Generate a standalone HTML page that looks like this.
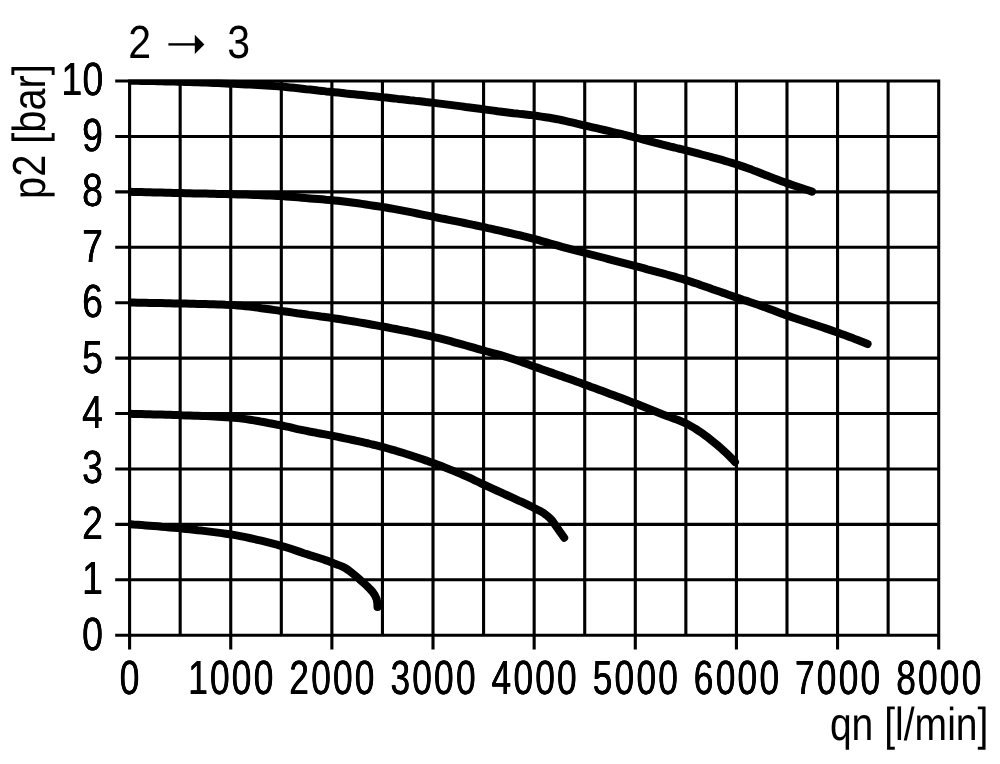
<!DOCTYPE html>
<html lang="en"><head><meta charset="utf-8"><title>Flow chart 2 to 3</title>
<style>
html,body{margin:0;padding:0;background:#fff}
body{width:1000px;height:764px;overflow:hidden;position:relative}
svg{display:block;position:absolute;left:0;top:0}
.t,.a,.y{text-rendering:geometricPrecision;position:absolute;left:0;top:0;line-height:0;white-space:nowrap;transform-origin:0 0;color:#000;font-family:"Liberation Sans",Arial,sans-serif}
.t{font-size:96.00px;letter-spacing:6.04px;text-shadow:0.680px 0 0 #000,-0.680px 0 0 #000}
.a{font-size:92.80px}
.y{font-size:92.80px;letter-spacing:0.60px;text-shadow:0.297px 0 0 #000,-0.297px 0 0 #000}
</style></head><body>
<svg width="1000" height="764" viewBox="0 0 1000 764">
<defs><clipPath id="plot"><rect x="128.05" y="79.50" width="812.20" height="557.25"/></clipPath></defs>
<path d="M129.60 79.50 V649.60 M180.17 79.50 V635.20 M230.74 79.50 V649.60 M281.31 79.50 V635.20 M331.88 79.50 V649.60 M382.44 79.50 V635.20 M433.01 79.50 V649.60 M483.58 79.50 V635.20 M534.15 79.50 V649.60 M584.72 79.50 V635.20 M635.29 79.50 V649.60 M685.86 79.50 V635.20 M736.43 79.50 V649.60 M786.99 79.50 V635.20 M837.56 79.50 V649.60 M888.13 79.50 V635.20 M938.70 79.50 V649.60 M115.20 635.20 H940.25 M115.20 579.79 H940.25 M115.20 524.37 H940.25 M115.20 468.96 H940.25 M115.20 413.54 H940.25 M115.20 358.12 H940.25 M115.20 302.71 H940.25 M115.20 247.30 H940.25 M115.20 191.88 H940.25 M115.20 136.46 H940.25 M115.20 81.05 H940.25" fill="none" stroke="#000" stroke-width="3.10"/>
<g clip-path="url(#plot)" fill="none" stroke="#000" stroke-width="8.00" stroke-linecap="round" stroke-linejoin="round">
<path d="M129.6 80.7 L133.6 80.8 L137.6 80.8 L141.6 80.9 L145.7 81.0 L149.7 81.0 L153.7 81.1 L157.7 81.2 L161.7 81.3 L165.7 81.4 L169.8 81.5 L173.8 81.6 L177.8 81.7 L181.8 81.8 L185.8 82.0 L189.8 82.1 L193.8 82.2 L197.9 82.3 L201.9 82.5 L205.9 82.6 L209.9 82.8 L213.9 83.0 L217.9 83.1 L221.9 83.3 L226.0 83.5 L230.0 83.7 L234.0 83.8 L238.0 84.0 L242.0 84.2 L246.0 84.4 L250.0 84.6 L254.0 84.8 L258.1 85.1 L262.1 85.3 L266.1 85.5 L270.1 85.8 L274.1 86.1 L278.1 86.3 L282.1 86.6 L286.1 87.0 L290.1 87.4 L294.1 87.8 L298.1 88.2 L302.1 88.7 L306.1 89.2 L310.1 89.6 L314.1 90.0 L318.0 90.5 L322.0 90.9 L326.0 91.4 L330.0 91.8 L334.0 92.2 L338.0 92.6 L342.0 93.0 L346.0 93.5 L350.0 93.9 L354.0 94.3 L358.0 94.7 L362.0 95.1 L366.0 95.5 L370.0 95.9 L374.0 96.3 L378.0 96.7 L382.0 97.2 L386.0 97.6 L390.0 98.0 L393.9 98.4 L397.9 98.9 L401.9 99.3 L405.9 99.7 L409.9 100.2 L413.9 100.6 L417.9 101.1 L421.9 101.5 L425.9 102.0 L429.9 102.4 L433.9 102.9 L437.9 103.4 L441.8 103.9 L445.8 104.4 L449.8 104.9 L453.8 105.4 L457.8 105.9 L461.8 106.4 L465.7 107.0 L469.7 107.5 L473.7 108.0 L477.7 108.5 L481.7 109.0 L485.7 109.6 L489.6 110.1 L493.6 110.6 L497.6 111.2 L501.6 111.7 L505.6 112.2 L509.5 112.7 L513.5 113.2 L517.5 113.6 L521.5 114.1 L525.5 114.5 L529.5 114.9 L533.5 115.4 L537.5 116.0 L541.4 116.6 L545.4 117.2 L549.4 117.8 L553.3 118.5 L557.3 119.2 L561.2 120.0 L565.1 120.9 L569.1 121.8 L573.0 122.7 L576.9 123.7 L580.8 124.6 L584.7 125.5 L588.6 126.4 L592.5 127.3 L596.4 128.2 L600.4 129.1 L604.3 130.0 L608.2 130.9 L612.1 131.9 L616.0 132.8 L619.9 133.7 L623.8 134.7 L627.7 135.6 L631.6 136.6 L635.5 137.5 L639.4 138.5 L643.3 139.6 L647.2 140.6 L651.0 141.6 L654.9 142.7 L658.8 143.7 L662.7 144.7 L666.6 145.6 L670.5 146.6 L674.4 147.5 L678.3 148.5 L682.2 149.4 L686.1 150.4 L690.0 151.4 L693.9 152.4 L697.8 153.4 L701.7 154.5 L705.6 155.5 L709.5 156.5 L713.3 157.6 L717.2 158.6 L721.1 159.7 L724.9 160.8 L728.8 162.0 L732.6 163.1 L736.4 164.3 L740.2 165.6 L744.0 166.9 L747.8 168.2 L751.6 169.6 L755.3 171.1 L759.1 172.5 L762.8 174.0 L766.6 175.4 L770.3 176.9 L774.1 178.4 L777.8 179.8 L781.6 181.2 L785.4 182.6 L789.2 183.9 L793.0 185.2 L796.8 186.5 L800.6 187.8 L804.4 189.1 L808.2 190.3 L812.0 191.6"/>
<path d="M129.6 191.8 L133.6 191.9 L137.6 192.0 L141.6 192.1 L145.6 192.2 L149.7 192.3 L153.7 192.4 L157.7 192.5 L161.7 192.6 L165.7 192.7 L169.7 192.8 L173.7 192.9 L177.7 193.0 L181.8 193.1 L185.8 193.2 L189.8 193.3 L193.8 193.4 L197.8 193.5 L201.8 193.5 L205.8 193.6 L209.8 193.7 L213.9 193.8 L217.9 193.9 L221.9 194.0 L225.9 194.1 L229.9 194.2 L233.9 194.3 L237.9 194.4 L241.9 194.5 L245.9 194.6 L250.0 194.8 L254.0 194.9 L258.0 195.0 L262.0 195.2 L266.0 195.4 L270.0 195.5 L274.0 195.7 L278.0 195.9 L282.0 196.1 L286.0 196.4 L290.0 196.7 L294.0 197.0 L298.0 197.3 L302.0 197.7 L306.0 198.1 L310.0 198.4 L314.0 198.7 L318.0 199.0 L322.0 199.3 L326.0 199.7 L330.0 200.0 L334.0 200.4 L338.0 200.8 L342.0 201.3 L346.0 201.8 L350.0 202.3 L353.9 202.8 L357.9 203.3 L361.9 203.9 L365.9 204.5 L369.8 205.1 L373.8 205.7 L377.8 206.3 L381.7 206.9 L385.7 207.5 L389.7 208.2 L393.6 208.9 L397.5 209.6 L401.5 210.4 L405.4 211.1 L409.4 211.9 L413.3 212.7 L417.2 213.5 L421.2 214.3 L425.1 215.1 L429.0 215.9 L433.0 216.7 L436.9 217.5 L440.9 218.3 L444.8 219.0 L448.7 219.8 L452.7 220.6 L456.6 221.4 L460.5 222.2 L464.5 223.0 L468.4 223.8 L472.3 224.7 L476.2 225.5 L480.2 226.4 L484.1 227.2 L488.0 228.1 L491.9 228.9 L495.8 229.8 L499.8 230.7 L503.7 231.6 L507.6 232.5 L511.5 233.4 L515.4 234.3 L519.3 235.2 L523.2 236.2 L527.1 237.1 L531.0 238.1 L534.9 239.1 L538.7 240.2 L542.6 241.3 L546.5 242.4 L550.3 243.5 L554.2 244.6 L558.0 245.7 L561.9 246.8 L565.8 247.9 L569.6 248.9 L573.5 249.9 L577.4 251.0 L581.3 252.0 L585.2 253.0 L589.0 254.0 L592.9 255.0 L596.8 256.0 L600.7 257.0 L604.6 258.0 L608.5 259.1 L612.3 260.1 L616.2 261.1 L620.1 262.1 L624.0 263.1 L627.9 264.1 L631.8 265.1 L635.6 266.2 L639.5 267.2 L643.4 268.2 L647.3 269.3 L651.2 270.3 L655.0 271.3 L658.9 272.4 L662.8 273.4 L666.7 274.5 L670.5 275.6 L674.4 276.7 L678.2 277.8 L682.1 278.9 L685.9 280.1 L689.7 281.3 L693.5 282.6 L697.3 283.8 L701.1 285.2 L704.9 286.5 L708.7 287.8 L712.5 289.2 L716.3 290.5 L720.1 291.8 L723.9 293.1 L727.7 294.5 L731.4 295.8 L735.2 297.1 L739.0 298.4 L742.8 299.7 L746.6 300.9 L750.4 302.2 L754.2 303.5 L758.0 304.8 L761.8 306.2 L765.6 307.5 L769.4 308.9 L773.1 310.3 L776.9 311.8 L780.6 313.2 L784.4 314.6 L788.2 315.9 L792.0 317.2 L795.8 318.5 L799.6 319.8 L803.4 321.0 L807.2 322.3 L811.0 323.5 L814.8 324.8 L818.6 326.0 L822.4 327.3 L826.3 328.6 L830.1 329.9 L833.8 331.2 L837.6 332.5 L841.4 333.9 L845.2 335.3 L848.9 336.7 L852.7 338.1 L856.4 339.6 L860.1 341.0 L863.9 342.5 L867.6 344.0"/>
<path d="M129.6 302.6 L133.6 302.6 L137.6 302.7 L141.6 302.8 L145.6 302.8 L149.6 302.9 L153.6 303.0 L157.6 303.0 L161.6 303.1 L165.6 303.2 L169.6 303.3 L173.6 303.4 L177.6 303.4 L181.6 303.5 L185.6 303.6 L189.6 303.7 L193.6 303.8 L197.6 303.9 L201.6 304.0 L205.6 304.1 L209.6 304.2 L213.6 304.3 L217.6 304.5 L221.6 304.6 L225.6 304.8 L229.6 304.9 L233.6 305.1 L237.6 305.4 L241.6 305.8 L245.6 306.2 L249.5 306.6 L253.5 307.1 L257.5 307.6 L261.4 308.2 L265.4 308.7 L269.4 309.3 L273.4 309.9 L277.3 310.4 L281.3 311.0 L285.3 311.5 L289.2 312.0 L293.2 312.6 L297.1 313.2 L301.1 313.7 L305.1 314.3 L309.0 314.9 L313.0 315.4 L317.0 315.9 L320.9 316.5 L324.9 317.0 L328.9 317.5 L332.8 318.1 L336.8 318.7 L340.7 319.3 L344.7 320.0 L348.6 320.6 L352.6 321.2 L356.5 321.9 L360.5 322.6 L364.4 323.3 L368.4 324.0 L372.3 324.7 L376.2 325.4 L380.2 326.1 L384.1 326.8 L388.0 327.5 L392.0 328.3 L395.9 329.0 L399.8 329.8 L403.8 330.6 L407.7 331.3 L411.6 332.1 L415.5 333.0 L419.5 333.8 L423.4 334.6 L427.3 335.5 L431.2 336.4 L435.1 337.3 L439.0 338.2 L442.8 339.2 L446.7 340.2 L450.6 341.2 L454.4 342.3 L458.3 343.4 L462.1 344.4 L466.0 345.5 L469.9 346.6 L473.7 347.7 L477.6 348.8 L481.4 349.9 L485.3 351.0 L489.1 352.0 L493.0 353.1 L496.9 354.1 L500.7 355.2 L504.5 356.3 L508.4 357.5 L512.2 358.7 L516.0 360.0 L519.7 361.3 L523.5 362.7 L527.3 364.1 L531.0 365.4 L534.8 366.8 L538.6 368.1 L542.3 369.5 L546.1 370.8 L549.9 372.1 L553.7 373.4 L557.4 374.8 L561.2 376.1 L565.0 377.5 L568.8 378.8 L572.5 380.1 L576.3 381.5 L580.1 382.8 L583.8 384.2 L587.6 385.6 L591.3 387.0 L595.1 388.3 L598.8 389.7 L602.6 391.1 L606.4 392.5 L610.1 393.9 L613.9 395.3 L617.6 396.7 L621.3 398.1 L625.1 399.5 L628.8 401.0 L632.6 402.4 L636.3 403.8 L640.0 405.3 L643.7 406.8 L647.4 408.3 L651.1 409.8 L654.8 411.3 L658.6 412.8 L662.3 414.3 L666.1 415.7 L669.8 417.0 L673.6 418.4 L677.4 419.8 L681.1 421.3 L684.7 422.9 L688.3 424.6 L691.8 426.6 L695.3 428.6 L698.6 430.8 L701.9 433.0 L705.2 435.4 L708.4 437.8 L711.5 440.3 L714.6 442.8 L717.7 445.4 L720.7 448.0 L723.7 450.7 L726.6 453.4 L729.4 456.2 L732.3 459.1 L735.0 462.0"/>
<path d="M129.6 413.8 L133.6 413.9 L137.6 414.0 L141.7 414.1 L145.7 414.2 L149.7 414.3 L153.7 414.4 L157.8 414.5 L161.8 414.6 L165.8 414.7 L169.8 414.8 L173.8 415.0 L177.9 415.1 L181.9 415.3 L185.9 415.4 L189.9 415.5 L194.0 415.7 L198.0 415.8 L202.0 416.0 L206.0 416.1 L210.1 416.3 L214.1 416.5 L218.1 416.7 L222.1 416.9 L226.1 417.2 L230.1 417.4 L234.1 417.7 L238.1 418.1 L242.1 418.6 L246.1 419.1 L250.1 419.7 L254.1 420.4 L258.0 421.0 L262.0 421.8 L266.0 422.5 L269.9 423.3 L273.9 424.0 L277.8 424.8 L281.8 425.5 L285.7 426.3 L289.7 427.2 L293.6 428.2 L297.5 429.1 L301.4 429.9 L305.4 430.7 L309.3 431.5 L313.3 432.2 L317.2 433.0 L321.2 433.7 L325.1 434.4 L329.1 435.1 L333.1 435.9 L337.0 436.7 L340.9 437.5 L344.9 438.3 L348.8 439.1 L352.8 440.0 L356.7 440.8 L360.6 441.7 L364.6 442.6 L368.5 443.5 L372.4 444.5 L376.3 445.4 L380.2 446.4 L384.1 447.4 L387.9 448.5 L391.8 449.6 L395.7 450.7 L399.5 451.9 L403.4 453.0 L407.2 454.2 L411.1 455.5 L414.9 456.7 L418.7 458.0 L422.5 459.3 L426.3 460.6 L430.1 462.0 L433.9 463.3 L437.7 464.7 L441.4 466.1 L445.2 467.6 L448.9 469.1 L452.7 470.6 L456.4 472.1 L460.1 473.7 L463.8 475.3 L467.5 476.9 L471.2 478.5 L474.8 480.3 L478.4 482.0 L482.0 483.8 L485.7 485.5 L489.3 487.2 L493.0 488.9 L496.6 490.5 L500.3 492.2 L504.0 493.9 L507.6 495.5 L511.3 497.2 L515.0 498.9 L518.6 500.6 L522.3 502.2 L525.9 503.9 L529.5 505.7 L533.1 507.5 L536.7 509.3 L540.4 511.1 L543.8 513.2 L547.0 515.6 L550.0 518.3 L552.7 521.3 L555.0 524.6 L557.3 527.9 L559.6 531.2 L561.9 534.5 L564.2 537.8"/>
<path d="M129.6 524.3 L133.6 524.6 L137.6 524.8 L141.7 525.1 L145.7 525.4 L149.7 525.7 L153.7 526.0 L157.7 526.3 L161.7 526.7 L165.7 527.0 L169.7 527.4 L173.8 527.8 L177.8 528.1 L181.8 528.5 L185.8 528.9 L189.8 529.3 L193.8 529.7 L197.8 530.2 L201.8 530.6 L205.8 531.1 L209.8 531.6 L213.8 532.1 L217.8 532.6 L221.8 533.1 L225.8 533.7 L229.7 534.3 L233.7 534.9 L237.7 535.6 L241.6 536.4 L245.6 537.2 L249.5 538.0 L253.4 538.9 L257.4 539.8 L261.3 540.7 L265.2 541.7 L269.1 542.7 L273.0 543.7 L276.9 544.7 L280.8 545.8 L284.7 546.9 L288.5 548.0 L292.3 549.3 L296.2 550.6 L300.0 551.9 L303.8 553.2 L307.6 554.4 L311.4 555.7 L315.3 556.8 L319.1 558.0 L323.0 559.3 L326.8 560.6 L330.5 562.0 L334.3 563.5 L338.1 564.9 L341.9 566.4 L345.4 568.1 L348.7 570.4 L351.9 572.9 L355.1 575.5 L358.1 578.1 L361.1 580.7 L364.1 583.4 L367.1 586.1 L370.0 589.0 L372.7 592.0 L374.9 595.3 L376.6 599.0 L377.3 602.9 L377.5 607.0"/>
</g>
<g role="img" aria-label="arrow"><path d="M168.4 44.4 H196" fill="none" stroke="#000" stroke-width="2.4"/><path d="M194.8 34.8 L204.4 44.4 L194.8 54 Z" fill="#000"/></g>
</svg>
<div class="y" style="transform:translate(103.30px,95.55px) scale(0.4040,0.5000) translate(calc(-100% + 0.60px),-32.155px)">10</div>
<div class="y" style="transform:translate(102.90px,150.96px) scale(0.4040,0.5000) translate(calc(-100% + 0.60px),-32.155px)">9</div>
<div class="y" style="transform:translate(102.90px,206.38px) scale(0.4040,0.5000) translate(calc(-100% + 0.60px),-32.155px)">8</div>
<div class="y" style="transform:translate(102.90px,261.80px) scale(0.4040,0.5000) translate(calc(-100% + 0.60px),-32.155px)">7</div>
<div class="y" style="transform:translate(102.90px,317.21px) scale(0.4040,0.5000) translate(calc(-100% + 0.60px),-32.155px)">6</div>
<div class="y" style="transform:translate(102.90px,372.62px) scale(0.4040,0.5000) translate(calc(-100% + 0.60px),-32.155px)">5</div>
<div class="y" style="transform:translate(102.90px,428.04px) scale(0.4040,0.5000) translate(calc(-100% + 0.60px),-32.155px)">4</div>
<div class="y" style="transform:translate(102.90px,483.46px) scale(0.4040,0.5000) translate(calc(-100% + 0.60px),-32.155px)">3</div>
<div class="y" style="transform:translate(102.90px,538.87px) scale(0.4040,0.5000) translate(calc(-100% + 0.60px),-32.155px)">2</div>
<div class="y" style="transform:translate(102.90px,594.29px) scale(0.4040,0.5000) translate(calc(-100% + 0.60px),-32.155px)">1</div>
<div class="y" style="transform:translate(102.90px,649.70px) scale(0.4040,0.5000) translate(calc(-100% + 0.60px),-32.155px)">0</div>
<div class="t" style="transform:translate(129.60px,695.00px) scale(0.3675,0.5000) translate(calc(-50% + 3.02px),-33.264px)">0</div>
<div class="t" style="transform:translate(230.74px,695.00px) scale(0.3675,0.5000) translate(calc(-50% + 3.02px),-33.264px)">1000</div>
<div class="t" style="transform:translate(331.88px,695.00px) scale(0.3675,0.5000) translate(calc(-50% + 3.02px),-33.264px)">2000</div>
<div class="t" style="transform:translate(433.01px,695.00px) scale(0.3675,0.5000) translate(calc(-50% + 3.02px),-33.264px)">3000</div>
<div class="t" style="transform:translate(534.15px,695.00px) scale(0.3675,0.5000) translate(calc(-50% + 3.02px),-33.264px)">4000</div>
<div class="t" style="transform:translate(635.29px,695.00px) scale(0.3675,0.5000) translate(calc(-50% + 3.02px),-33.264px)">5000</div>
<div class="t" style="transform:translate(736.43px,695.00px) scale(0.3675,0.5000) translate(calc(-50% + 3.02px),-33.264px)">6000</div>
<div class="t" style="transform:translate(837.56px,695.00px) scale(0.3675,0.5000) translate(calc(-50% + 3.02px),-33.264px)">7000</div>
<div class="t" style="transform:translate(938.70px,695.00px) scale(0.3675,0.5000) translate(calc(-50% + 3.02px),-33.264px)">8000</div>
<div class="a" style="transform:translate(988.40px,740.00px) scale(0.4210,0.5000) translate(calc(-100% + 0.00px),-32.155px)">qn [l/min]</div>
<div class="a" style="transform:translate(45.40px,198.90px) rotate(-90deg) scale(0.4280,0.5000) translate(0,-32.155px)">p2 [bar]</div>
<div class="a" style="transform:translate(128.20px,57.70px) scale(0.4425,0.5000) translate(0,-32.155px)">2</div>
<div class="a" style="transform:translate(227.30px,57.70px) scale(0.4425,0.5000) translate(0,-32.155px)">3</div>
</body></html>
